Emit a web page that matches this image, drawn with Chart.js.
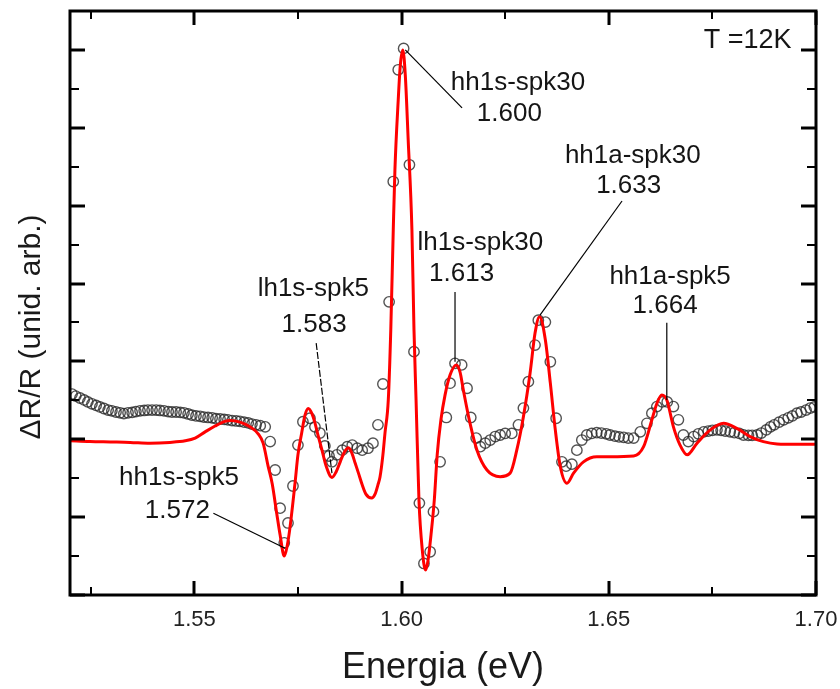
<!DOCTYPE html>
<html>
<head>
<meta charset="utf-8">
<script src="https://cdn.jsdelivr.net/npm/chart.js@4.4.1/dist/chart.umd.min.js"></script>
<style>
  html, body { margin: 0; padding: 0; background: #fff; }
  #wrap { width: 840px; height: 689px; }
</style>
</head>
<body>
<div id="wrap"><canvas id="chart" width="840" height="689"></canvas></div>
<script>
// measured spectrum (open circles)
const measEnergy = [
  1.5205, 1.5214, 1.5224, 1.5234, 1.5243, 1.5253, 1.5263, 1.5272, 1.5282, 1.5292,
  1.5301, 1.5311, 1.5321, 1.5330, 1.5340, 1.5350, 1.5359, 1.5369, 1.5379, 1.5388,
  1.5398, 1.5408, 1.5417, 1.5427, 1.5437, 1.5446, 1.5456, 1.5466, 1.5475, 1.5485,
  1.5494, 1.5504, 1.5514, 1.5523, 1.5533, 1.5543, 1.5552, 1.5562, 1.5572, 1.5581,
  1.5591, 1.5601, 1.5610, 1.5620, 1.5630, 1.5639, 1.5649, 1.5659, 1.5671, 1.5683,
  1.5695, 1.5707, 1.5717, 1.5726, 1.5738, 1.5750, 1.5762, 1.5779, 1.5791, 1.5803,
  1.5815, 1.5825, 1.5832, 1.5844, 1.5857, 1.5869, 1.5881, 1.5893, 1.5905, 1.5919,
  1.5931, 1.5943, 1.5955, 1.5970, 1.5980, 1.5992, 1.6005, 1.6019, 1.6030, 1.6043,
  1.6054, 1.6069, 1.6077, 1.6093, 1.6108, 1.6117, 1.6129, 1.6145, 1.6158, 1.6167,
  1.6180, 1.6190, 1.6202, 1.6214, 1.6226, 1.6238, 1.6250, 1.6266, 1.6282, 1.6294,
  1.6306, 1.6322, 1.6330, 1.6347, 1.6359, 1.6373, 1.6387, 1.6397, 1.6411, 1.6423,
  1.6435, 1.6447, 1.6459, 1.6471, 1.6482, 1.6494, 1.6503, 1.6515, 1.6525, 1.6536,
  1.6547, 1.6560, 1.6576, 1.6592, 1.6604, 1.6616, 1.6629, 1.6641, 1.6656, 1.6668,
  1.6680, 1.6692, 1.6705, 1.6716, 1.6729, 1.6740, 1.6750, 1.6761, 1.6771, 1.6781,
  1.6793, 1.6803, 1.6815, 1.6825, 1.6837, 1.6846, 1.6858, 1.6868, 1.6880, 1.6890,
  1.6899, 1.6911, 1.6922, 1.6933, 1.6943, 1.6954, 1.6964, 1.6976, 1.6986, 1.6996
];
const measSignal = [
  1.16, 1.11, 1.06, 1.01, 0.96, 0.91, 0.87, 0.83, 0.79, 0.75,
  0.73, 0.70, 0.68, 0.66, 0.68, 0.69, 0.71, 0.73, 0.74, 0.75,
  0.75, 0.75, 0.74, 0.73, 0.71, 0.70, 0.70, 0.69, 0.68, 0.65,
  0.62, 0.60, 0.59, 0.57, 0.56, 0.55, 0.53, 0.52, 0.51, 0.50,
  0.48, 0.47, 0.46, 0.44, 0.42, 0.39, 0.37, 0.35, 0.32, -0.06,
  -0.79, -1.77, -2.66, -2.15, -1.20, -0.15, 0.45, 0.54, 0.32, 0.16,
  -0.17, -0.43, -0.58, -0.40, -0.28, -0.19, -0.15, -0.23, -0.28, -0.23,
  -0.10, 0.37, 1.42, 3.53, 6.62, 9.49, 10.04, 7.05, 2.25, -1.64,
  -3.19, -2.89, -1.86, -0.58, 0.56, 1.44, 1.95, 1.91, 1.31, 0.56,
  0.03, -0.19, -0.10, -0.02, 0.07, 0.11, 0.15, 0.15, 0.37, 0.80,
  1.48, 2.42, 3.06, 3.01, 1.99, 0.54, -0.58, -0.69, -0.64, -0.28,
  -0.02, 0.11, 0.15, 0.17, 0.16, 0.14, 0.11, 0.08, 0.06, 0.05,
  0.03, 0.03, 0.19, 0.41, 0.67, 0.84, 0.96, 0.96, 0.84, 0.50,
  0.11, -0.06, 0.07, 0.14, 0.19, 0.21, 0.23, 0.24, 0.23, 0.21,
  0.19, 0.17, 0.15, 0.11, 0.10, 0.10, 0.11, 0.16, 0.24, 0.32,
  0.37, 0.44, 0.50, 0.55, 0.60, 0.67, 0.70, 0.75, 0.80, 0.83
];

// fitted line (red)
const fitEnergy = [
  1.5200, 1.5248, 1.5297, 1.5345, 1.5393, 1.5441, 1.5478, 1.5502, 1.5526, 1.5550,
  1.5574, 1.5586, 1.5610, 1.5634, 1.5654, 1.5666, 1.5678, 1.5688, 1.5699, 1.5707,
  1.5717, 1.5724, 1.5731, 1.5743, 1.5750, 1.5759, 1.5767, 1.5775, 1.5784, 1.5791,
  1.5799, 1.5808, 1.5818, 1.5832, 1.5842, 1.5852, 1.5861, 1.5872, 1.5881, 1.5888,
  1.5896, 1.5905, 1.5914, 1.5928, 1.5936, 1.5943, 1.5948, 1.5955, 1.5960, 1.5968,
  1.5974, 1.5980, 1.5984, 1.5992, 1.5997, 1.6003, 1.6009, 1.6016, 1.6025, 1.6030,
  1.6035, 1.6042, 1.6050, 1.6058, 1.6064, 1.6071, 1.6079, 1.6086, 1.6095, 1.6105,
  1.6117, 1.6132, 1.6141, 1.6149, 1.6165, 1.6182, 1.6206, 1.6238, 1.6262, 1.6278,
  1.6294, 1.6310, 1.6322, 1.6333, 1.6347, 1.6359, 1.6371, 1.6383, 1.6399, 1.6415,
  1.6439, 1.6471, 1.6503, 1.6560, 1.6584, 1.6604, 1.6616, 1.6628, 1.6640, 1.6656,
  1.6672, 1.6689, 1.6713, 1.6745, 1.6777, 1.6809, 1.6841, 1.6873, 1.6906, 1.6954, 1.7000
];
const fitSignal = [
  -0.04, -0.06, -0.07, -0.08, -0.10, -0.08, -0.04, 0.03, 0.19, 0.34,
  0.46, 0.48, 0.44, 0.32, 0.14, -0.10, -0.69, -1.15, -1.92, -2.46,
  -3.00, -2.74, -2.25, -1.12, -0.40, 0.16, 0.62, 0.79, 0.65, 0.42,
  0.08, -0.28, -0.69, -0.98, -0.84, -0.58, -0.35, -0.22, -0.38, -0.61,
  -0.87, -1.17, -1.41, -1.51, -1.41, -1.17, -0.97, -0.40, 0.16, 1.01,
  2.81, 5.38, 6.92, 8.72, 9.61, 10.00, 9.36, 7.69, 5.38, 2.81,
  1.01, -1.56, -2.84, -3.36, -3.10, -2.46, -1.56, -0.40, 0.50, 1.14,
  1.65, 1.91, 1.73, 1.27, 0.42, -0.28, -0.79, -0.96, -0.87, -0.28,
  0.58, 1.69, 2.72, 3.15, 2.55, 1.44, 0.24, -0.70, -1.13, -0.87,
  -0.58, -0.45, -0.45, -0.43, -0.19, 0.50, 0.92, 1.14, 1.01, 0.32,
  -0.15, -0.40, -0.10, 0.24, 0.41, 0.28, 0.07, -0.06, -0.12, -0.13, -0.13
];

// axis ticks
const xTickValues = [1.55, 1.60, 1.65, 1.70];
const xMinorTicks = [1.525, 1.575, 1.625, 1.675];
const yMajorTicks = [-4, -2, 0, 2, 4, 6, 8, 10];
const yMinorTicks = [-3, -1, 1, 3, 5, 7, 9, 11];

// transitions
const peakNames = ['hh1s-spk5', 'lh1s-spk5', 'hh1s-spk30', 'lh1s-spk30', 'hh1a-spk30', 'hh1a-spk5'];
const peakValues = ['1.572', '1.583', '1.600', '1.613', '1.633', '1.664'];
const tempLabel = 'T =12K';

// where each label sits, in data units: name, value, leader line
const labelLayout = [
  { name: [1.5463, -1.17], value: [1.5459, -2.02], line: [[1.5546, -1.90], [1.5719, -2.80]] },
  { name: [1.5787, 3.68], value: [1.5789, 2.76], line: [[1.5794, 2.47], [1.5832, -0.87]], dash: true },
  { name: [1.6281, 8.97], value: [1.6260, 8.18], line: [[1.6009, 10.00], [1.6146, 8.51]] },
  { name: [1.6190, 4.86], value: [1.6145, 4.07], line: [[1.6129, 3.78], [1.6129, 1.99]] },
  { name: [1.6558, 7.10], value: [1.6548, 6.33], line: [[1.6532, 6.12], [1.6334, 3.19]] },
  { name: [1.6648, 3.99], value: [1.6636, 3.24], line: [[1.6640, 2.99], [1.6640, 1.01]] }
];
const tempAt = [1.6835, 10.05];

const FONT = '"Liberation Sans", Arial, Helvetica, sans-serif';

const framePlugin = {
  id: 'framePlugin',
  afterDatasetsDraw(chart) {
    const { ctx, chartArea: a, scales: { x, y } } = chart;
    const seg = (x1, y1, x2, y2) => { ctx.beginPath(); ctx.moveTo(x1, y1); ctx.lineTo(x2, y2); ctx.stroke(); };
    ctx.save();
    ctx.strokeStyle = '#000';
    ctx.lineCap = 'butt';

    // inward ticks on all sides
    const xTick = (v, len, w) => {
      const px = Math.round(x.getPixelForValue(v));
      ctx.lineWidth = w;
      seg(px, a.bottom, px, a.bottom - len);
      seg(px, a.top, px, a.top + len);
    };
    const yTick = (v, len, w) => {
      const py = Math.round(y.getPixelForValue(v));
      ctx.lineWidth = w;
      seg(a.left, py, a.left + len, py);
      seg(a.right, py, a.right - len, py);
    };
    xTickValues.forEach(v => xTick(v, 14, 3));
    xMinorTicks.forEach(v => xTick(v, 8, 2));
    yMajorTicks.forEach(v => yTick(v, 15, 3));
    yMinorTicks.forEach(v => yTick(v, 9, 2));

    ctx.lineWidth = 3;
    ctx.strokeRect(a.left, a.top, a.right - a.left, a.bottom - a.top);

    // peak labels and leader lines
    ctx.fillStyle = '#151515';
    ctx.font = '26px ' + FONT;
    ctx.textAlign = 'center';
    ctx.textBaseline = 'alphabetic';
    labelLayout.forEach((L, i) => {
      ctx.fillText(peakNames[i], x.getPixelForValue(L.name[0]), y.getPixelForValue(L.name[1]));
      ctx.fillText(peakValues[i], x.getPixelForValue(L.value[0]), y.getPixelForValue(L.value[1]));
      ctx.lineWidth = 1.2;
      ctx.setLineDash(L.dash ? [7, 2] : []);
      seg(x.getPixelForValue(L.line[0][0]), y.getPixelForValue(L.line[0][1]),
          x.getPixelForValue(L.line[1][0]), y.getPixelForValue(L.line[1][1]));
    });
    ctx.setLineDash([]);

    ctx.font = '27px ' + FONT;
    ctx.fillText(tempLabel, x.getPixelForValue(tempAt[0]), y.getPixelForValue(tempAt[1]));

    // axis titles
    ctx.font = '36px ' + FONT;
    ctx.fillStyle = '#1a1a1a';
    ctx.fillText('Energia (eV)', 443, 678);

    ctx.save();
    ctx.translate(40, 327);
    ctx.rotate(-Math.PI / 2);
    ctx.font = '30px ' + FONT;
    ctx.fillText('ΔR/R (unid. arb.)', 0, 0);
    ctx.restore();

    ctx.restore();
  }
};

new Chart(document.getElementById('chart'), {
  type: 'scatter',
  data: {
    datasets: [
      {
        label: 'ajuste',
        data: fitEnergy.map((e, i) => ({ x: e, y: fitSignal[i] })),
        showLine: true,
        borderColor: '#ff0000',
        borderWidth: 3,
        pointRadius: 0,
        cubicInterpolationMode: 'monotone',
        order: 0
      },
      {
        label: 'experimental',
        data: measEnergy.map((e, i) => ({ x: e, y: measSignal[i] })),
        showLine: false,
        pointRadius: 5.2,
        pointBorderWidth: 1.4,
        pointBorderColor: 'rgba(40,40,40,0.8)',
        pointBackgroundColor: 'rgba(255,255,255,0)',
        order: 1
      }
    ]
  },
  options: {
    responsive: false,
    animation: false,
    events: [],
    layout: { padding: { left: 70, right: 24, top: 11, bottom: 0 } },
    plugins: { legend: { display: false }, tooltip: { enabled: false } },
    scales: {
      x: {
        type: 'linear',
        min: 1.52,
        max: 1.70,
        grid: { display: false, drawTicks: false },
        border: { display: false },
        afterBuildTicks: s => { s.ticks = xTickValues.map(v => ({ value: v })); },
        afterFit: s => { s.height = 94; s.paddingLeft = 0; s.paddingRight = 0; },
        ticks: {
          padding: 12,
          color: '#222',
          font: { family: FONT, size: 22 },
          maxRotation: 0,
          callback: v => Number(v).toFixed(2)
        }
      },
      y: {
        type: 'linear',
        min: -4,
        max: 11,
        display: false
      }
    }
  },
  plugins: [framePlugin]
});
</script>
</body>
</html>
